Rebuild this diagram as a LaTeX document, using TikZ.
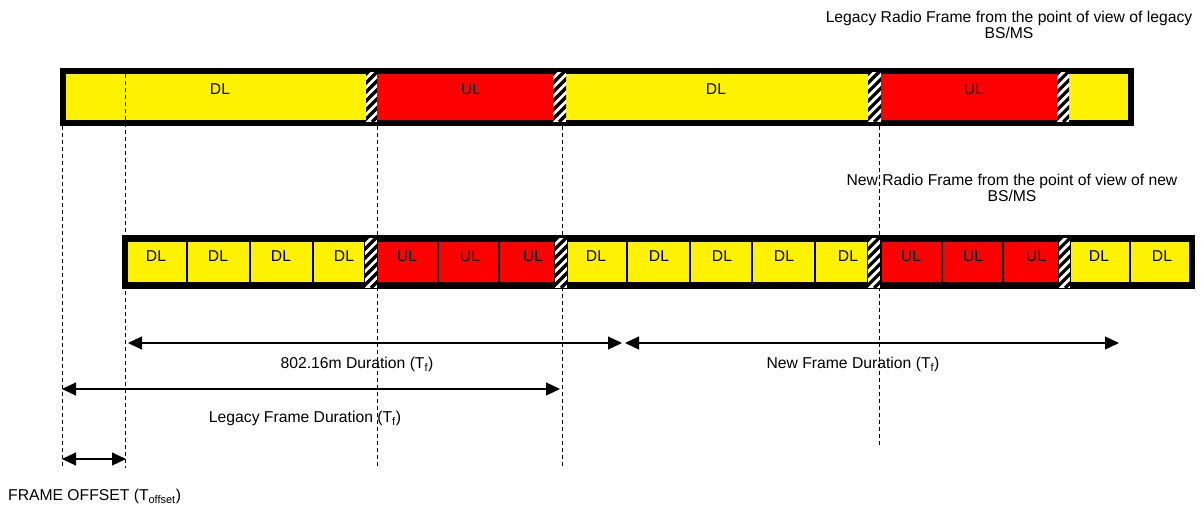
\documentclass[tikz,border=0pt]{standalone}
\usepackage{fontspec}
\setmainfont{Liberation Sans}
\usetikzlibrary{arrows.meta}
\newcommand\hatchbox[4]{%
  \begin{scope}
    \clip (#1,#3) rectangle (#2,#4);
    \fill[white] (#1,#3) rectangle (#2,#4);
    \foreach \k in {-66,-57,...,30}
      \draw[line width=3.2pt] (#1+\k,#4) -- ++(60,-60);
  \end{scope}}
\begin{document}
\begin{tikzpicture}[x=1pt,y=-1pt,
  lbl/.style={font=\fontsize{15.7}{16}\selectfont, inner sep=0pt},
  cellbox/.style={draw=black, line width=1.8pt},
  dlbox/.style={cellbox, fill=yellow},
  ulbox/.style={cellbox, fill=red},
  guide/.style={line width=0.9pt, dash pattern=on 4pt off 3pt},
  dim/.style={line width=1.2pt, {Triangle[length=14pt,width=13pt]}-{Triangle[length=14pt,width=13pt]}}]
\useasboundingbox (0,0) rectangle (1201,508);

% ---------- legacy frame (top bar) ----------
\fill[yellow] (66,74) rectangle (1128,120);
\fill[red] (377,74) rectangle (553,120);
\fill[red] (881,74) rectangle (1057,120);
\node[lbl] (tdl1) at (220,89) {DL};
\node[lbl] (tul1) at (471,89) {UL};
\node[lbl] (tdl2) at (716,89) {DL};
\node[lbl] (tul2) at (974,89) {UL};

% ---------- new frame (bottom bar) ----------
\foreach \a/\b/\m/\c in {127/187/156/1,187/250/218/2,250/313/281/3,313/365/344/4,567/627/596/5,627/690/659/6,690/752/722/7,752/815/784/8,815/868/848/9,1070/1130/1099/10,1130/1190/1162/11}{
  \draw[dlbox] (\a,241) rectangle (\b,283);
  \node[lbl] (bdl\c) at (\m,256) {DL};
}
\foreach \a/\b/\m/\c in {377/438/407/1,438/499/470/2,499/555/533/3,881/942/911/4,942/1003/973/5,1003/1059/1036/6}{
  \draw[ulbox] (\a,241) rectangle (\b,283);
  \node[lbl] (bul\c) at (\m,256) {UL};
}

% ---------- guides ----------
\coordinate (g1t) at (62,126);  \coordinate (g1b) at (62,468);
\coordinate (g2t) at (125,74);  \coordinate (g2b) at (125,468);
\coordinate (g3t) at (377,126); \coordinate (g3b) at (377,468);
\coordinate (g4t) at (562,126); \coordinate (g4b) at (562,468);
\coordinate (g5t) at (879,126); \coordinate (g5b) at (879,445);
\foreach \i in {1,...,5} \draw[guide] (g\i t) -- (g\i b);

% ---------- borders ----------
\draw[line width=6pt] (63,71) rectangle (1131,123);
\draw[line width=5pt] (124.5,237.5) rectangle (1192.5,286.5);

% ---------- guard periods ----------
\hatchbox{366}{377}{72}{122}
\hatchbox{553}{566}{72}{122}
\hatchbox{868}{881}{72}{122}
\hatchbox{1057}{1069}{72}{122}
\hatchbox{365}{377}{238}{288}
\hatchbox{555}{567}{238}{288}
\hatchbox{868}{880}{238}{288}
\hatchbox{1059}{1070}{238}{288}

% ---------- titles ----------
\node[lbl, align=center] (ttl1) at (1009,25) {Legacy Radio Frame from the point of view of legacy\\BS/MS};
\node[lbl, align=center] (ttl2) at (1012,188) {New Radio Frame from the point of view of new\\BS/MS};

% ---------- dimension arrows ----------
\coordinate (a1l) at (128,343); \coordinate (a1r) at (622,343);
\coordinate (a2l) at (625,343); \coordinate (a2r) at (1119,343);
\coordinate (a3l) at (62,389);  \coordinate (a3r) at (560,389);
\coordinate (a4l) at (62,459);  \coordinate (a4r) at (126,459);
\draw[dim] (a1l) -- (a1r);
\draw[dim] (a2l) -- (a2r);
\draw[dim] (a3l) -- (a3r);
\draw[dim] (a4l) -- (a4r);
\node[lbl] (l1) at (357,364) {802.16m Duration (T\textsubscript{f})};
\node[lbl] (l2) at (853,364) {New Frame Duration (T\textsubscript{f})};
\node[lbl] (l3) at (305,418) {Legacy Frame Duration (T\textsubscript{f})};
\node[lbl, anchor=west] (l4) at (8,496) {FRAME OFFSET (T\textsubscript{offset})};
\end{tikzpicture}
\end{document}
